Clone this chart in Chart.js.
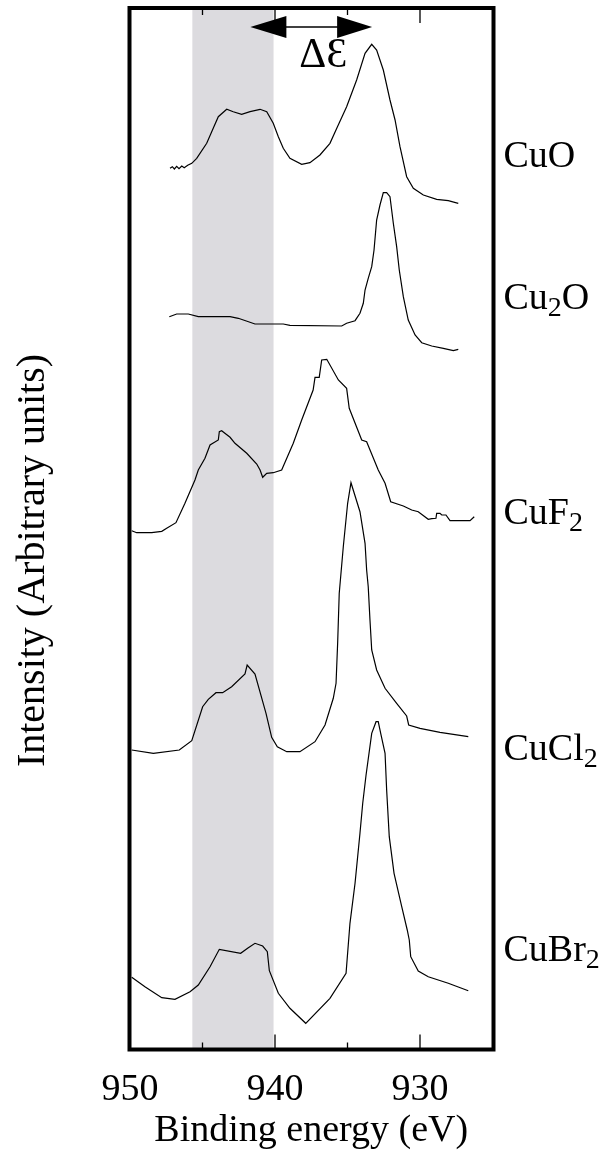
<!DOCTYPE html>
<html><head><meta charset="utf-8">
<script src="https://cdn.jsdelivr.net/npm/chart.js@4.4.1/dist/chart.umd.min.js"></script>
<style>html,body{margin:0;padding:0;background:#fff}#wrap{width:605px;height:1152px;position:relative}</style>
</head><body><div id="wrap"><canvas id="c"></canvas></div>
<script>
// ---- data (binding energy in eV, intensity in arbitrary units, curves offset vertically) ----
const compounds = ['CuO', 'Cu2O', 'CuF2', 'CuCl2', 'CuBr2'];
const labelLevels = [89.6, 75.4, 53.9, 30.3, 10.2];
const yTitle = 'Intensity (Arbitrary units)';
const xTitle = 'Binding energy (eV)';

const cuoE = [947.24,947.08,946.94,946.78,946.62,946.43,946.26,946.02,945.74,945.40,944.71,944.26,943.91,943.33,942.88,942.30,941.72,941.03,940.57,940.12,939.77,939.43,938.97,938.16,937.59,936.90,936.21,935.74,935.06,934.37,933.79,933.33,932.99,932.53,932.07,931.72,931.38,930.92,930.46,929.77,928.85,928.05,927.36];
const cuoI = [88.12,88.28,88.05,88.32,88.08,88.35,88.18,88.42,88.62,89.12,90.62,92.12,93.28,94.02,93.78,93.52,93.78,94.02,93.78,92.62,91.28,90.12,89.12,88.52,88.68,89.45,90.62,92.12,94.28,96.95,99.62,100.52,99.95,97.95,94.95,92.95,90.28,87.28,86.12,85.45,85.02,84.88,84.62];

const cu2oE = [947.29,946.78,945.98,945.29,943.10,942.53,941.38,939.43,938.97,935.40,935.06,934.48,934.14,933.91,933.79,933.57,933.33,933.17,932.99,932.76,932.53,932.30,932.07,931.84,931.61,931.43,931.15,930.81,930.34,929.88,929.19,928.39,927.70,927.36];
const cu2oI = [73.28,73.55,73.55,73.28,73.28,73.12,72.55,72.55,72.42,72.35,72.62,72.88,73.62,74.62,75.95,77.12,78.28,79.95,82.95,84.45,85.68,85.68,85.28,82.62,80.28,77.95,75.28,72.95,71.45,70.68,70.35,70.12,69.88,70.02];

const cuf2E = [949.88,949.54,948.50,947.81,947.47,946.83,946.21,945.52,945.29,944.83,944.48,943.91,943.84,943.68,943.10,942.76,941.95,941.26,941.03,940.85,940.57,940.12,939.54,938.74,938.16,937.37,937.24,936.95,936.78,936.43,935.63,935.06,934.88,934.02,933.68,932.88,932.41,932.02,931.15,930.57,930.12,929.43,929.19,928.90,928.85,928.62,928.50,928.21,927.93,926.55,926.26];
const cuf2I = [51.88,51.68,51.68,51.82,52.12,52.68,54.62,56.95,57.95,59.12,60.45,60.95,61.78,61.88,61.22,60.62,59.62,58.55,57.95,57.22,57.62,57.68,57.95,60.62,62.95,65.95,67.22,67.22,68.95,69.02,66.95,66.12,64.12,60.95,60.78,57.95,56.62,54.78,54.35,53.95,53.78,53.02,53.08,53.12,53.62,53.62,53.45,53.45,52.88,52.88,53.28];

const cucl2E = [949.88,948.39,946.60,945.74,944.99,944.60,944.07,943.61,942.99,942.07,941.92,941.38,940.62,940.23,939.84,939.19,938.28,937.24,936.55,935.98,935.79,935.68,935.57,935.29,934.99,934.76,934.14,933.79,933.68,933.57,933.45,933.33,932.99,932.41,931.61,930.92,930.78,930.00,928.62,926.67];
const cucl2I = [29.95,29.62,29.95,30.88,34.28,35.02,35.68,35.68,36.28,37.55,38.45,37.55,33.62,31.22,30.28,29.78,29.78,30.78,32.45,35.12,36.62,40.62,45.62,50.28,54.62,56.68,53.78,50.62,47.95,46.28,42.95,39.95,37.95,36.12,34.62,33.35,32.45,32.12,31.72,31.28];

const cubr2E = [949.88,948.97,947.81,946.90,945.86,945.29,944.48,943.84,942.37,941.84,941.38,940.85,940.53,940.39,939.77,938.97,937.88,936.21,935.10,934.83,934.48,934.14,933.95,933.72,933.33,933.03,932.88,932.71,932.41,932.30,932.12,931.79,931.26,930.88,930.74,930.64,930.12,929.43,928.05,926.67];
const cubr2I = [7.22,6.28,5.18,5.02,5.78,6.45,8.28,10.02,9.62,10.18,10.62,10.35,9.78,7.88,5.62,4.12,2.62,5.12,7.62,12.62,16.62,21.62,24.62,27.45,31.62,32.78,32.78,31.62,29.62,25.95,21.28,17.62,14.28,11.95,10.95,9.28,7.85,7.28,6.62,5.88];

const xTickValues = [950, 940, 930];
const xMinorTicks = [945, 935];
const shadeRange = [945.7, 940.1];      // shaded satellite band (eV)
const deltaArrow = [941.7, 933.3];      // ΔE arrow ends (eV)
const deltaArrowLevel = 102.25;         // arrow height (arb. units)

// ---- build ----
const seriesE = [cuoE, cu2oE, cuf2E, cucl2E, cubr2E];
const seriesI = [cuoI, cu2oI, cuf2I, cucl2I, cubr2I];
const datasets = compounds.map((name, k) => ({
  label: name,
  data: seriesE[k].map((e, i) => ({x: e, y: seriesI[k][i]})),
  borderColor: '#000', borderWidth: 1.2, pointRadius: 0, tension: 0, fill: false
}));

const SERIF = "'Liberation Serif','Times New Roman',serif";

const decor = {
  id: 'decor',
  beforeDatasetsDraw(chart) {
    const {ctx, chartArea: a, scales: {x}} = chart;
    const x1 = x.getPixelForValue(shadeRange[0]), x2 = x.getPixelForValue(shadeRange[1]);
    ctx.save();
    ctx.fillStyle = '#dcdbdf';
    ctx.fillRect(Math.min(x1, x2), a.top, Math.abs(x2 - x1), a.bottom - a.top);
    ctx.restore();
  },
  afterDatasetsDraw(chart) {
    const {ctx, chartArea: a, scales: {x, y}} = chart;
    ctx.save();
    // ticks (inward, top and bottom)
    ctx.strokeStyle = '#000'; ctx.lineWidth = 1.3;
    const tick = (v, len) => {
      const px = x.getPixelForValue(v);
      ctx.beginPath();
      ctx.moveTo(px, a.bottom); ctx.lineTo(px, a.bottom - len);
      ctx.moveTo(px, a.top); ctx.lineTo(px, a.top + len);
      ctx.stroke();
    };
    xTickValues.forEach(v => tick(v, 15));
    xMinorTicks.forEach(v => tick(v, 7));
    // frame
    ctx.lineWidth = 4;
    ctx.strokeRect(a.left - 0.5, a.top, a.right - a.left + 1.5, a.bottom - a.top);
    // delta arrow
    const xa = x.getPixelForValue(deltaArrow[0]), xb = x.getPixelForValue(deltaArrow[1]);
    const ya = y.getPixelForValue(deltaArrowLevel);
    ctx.lineWidth = 1.5;
    ctx.beginPath(); ctx.moveTo(xa + 20, ya); ctx.lineTo(xb - 20, ya); ctx.stroke();
    ctx.fillStyle = '#000';
    ctx.beginPath(); ctx.moveTo(xa, ya); ctx.lineTo(xa + 36, ya - 11); ctx.lineTo(xa + 36, ya + 11); ctx.closePath(); ctx.fill();
    ctx.beginPath(); ctx.moveTo(xb, ya); ctx.lineTo(xb - 35, ya - 11); ctx.lineTo(xb - 35, ya + 11); ctx.closePath(); ctx.fill();
    ctx.font = '42px ' + SERIF;
    ctx.textAlign = 'center'; ctx.textBaseline = 'alphabetic';
    ctx.fillText('\u0394\u0190', (xa + xb) / 2 + 12, ya + 40);
    // compound labels with subscripts
    ctx.textAlign = 'left';
    compounds.forEach((name, k) => {
      let px = a.right + 11;
      const base = y.getPixelForValue(labelLevels[k]) + 13;
      for (const ch of name) {
        if (/[0-9]/.test(ch)) {
          ctx.font = '28px ' + SERIF;
          ctx.fillText(ch, px, base + 7);
          px += ctx.measureText(ch).width;
        } else {
          ctx.font = '38px ' + SERIF;
          ctx.fillText(ch, px, base);
          px += ctx.measureText(ch).width;
        }
      }
    });
    // y-axis title (rotated), placed beside the y scale
    ctx.font = '40px ' + SERIF;
    ctx.textAlign = 'center'; ctx.textBaseline = 'middle';
    ctx.translate(y.left + 33, y.getPixelForValue(48.9));
    ctx.rotate(-Math.PI / 2);
    ctx.fillText(yTitle, 0, 0);
    ctx.restore();
  }
};

new Chart(document.getElementById('c'), {
  type: 'line',
  data: {datasets},
  plugins: [decor],
  options: {
    responsive: true, maintainAspectRatio: false, animation: false, devicePixelRatio: 1,
    layout: {padding: {left: 0, right: 112.5, top: 8, bottom: 0}},
    plugins: {legend: {display: false}, tooltip: {enabled: false}},
    scales: {
      x: {
        type: 'linear', reverse: true, min: 925, max: 950,
        afterBuildTicks(s) { s.ticks = xTickValues.map(v => ({value: v})); },
        ticks: {color: '#000', font: {family: SERIF, size: 38, lineHeight: 1.2}, padding: 18, maxRotation: 0, autoSkip: false, callback: v => String(v)},
        grid: {display: false, drawTicks: false}, border: {display: false},
        title: {display: true, text: xTitle, color: '#000', font: {family: SERIF, size: 38, lineHeight: 1}, padding: {top: 0, bottom: 2}},
        afterFit(s) { s.height = 102.5; }
      },
      y: {
        min: 0, max: 104.15,
        ticks: {display: false}, grid: {display: false, drawTicks: false}, border: {display: false},
        title: {display: false},
        afterFit(s) { s.width = 130; }
      }
    }
  }
});
</script></body></html>
